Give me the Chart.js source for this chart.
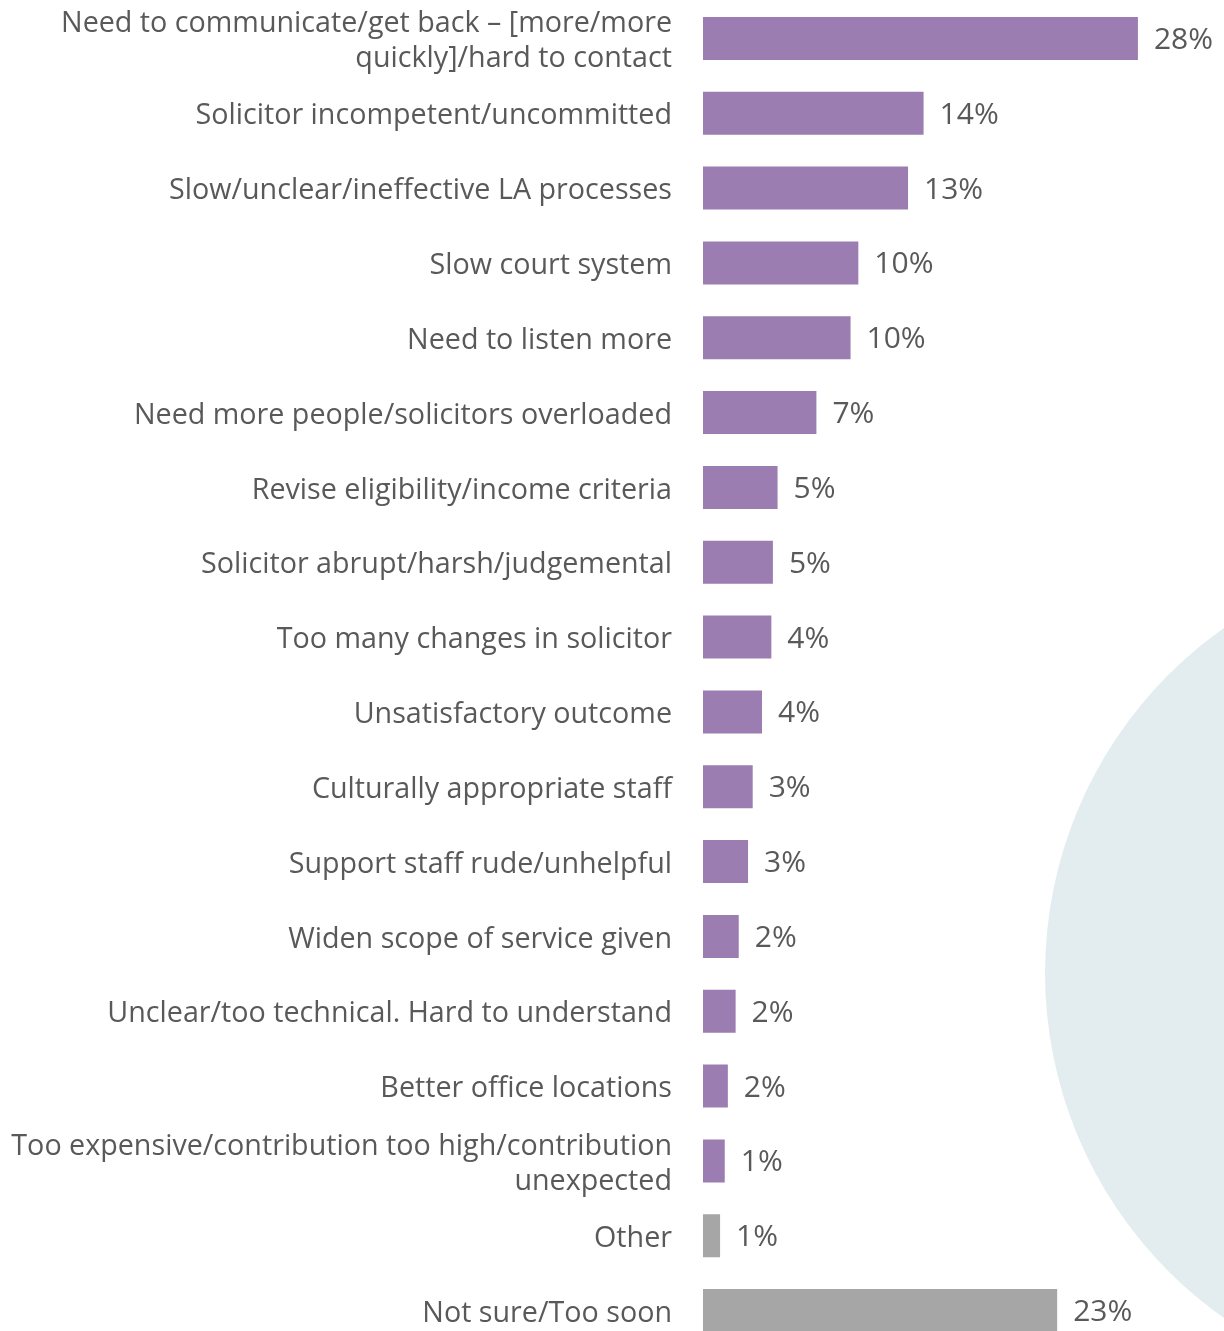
<!DOCTYPE html>
<html>
<head>
<meta charset="utf-8">
<script src="https://cdn.jsdelivr.net/npm/chart.js@4"></script>
<style>
  html, body { margin: 0; padding: 0; background: #ffffff; overflow: hidden; }
  #wrap { position: relative; width: 1224px; height: 1348px; }
</style>
</head>
<body>
<div id="wrap"><canvas id="chart"></canvas></div>
<script>
// Reasons given for what could be improved (share of respondents, %)
const categories = [
  ["Need to communicate/get back \u2013 [more/more", "quickly]/hard to contact"],
  "Solicitor incompetent/uncommitted",
  "Slow/unclear/ineffective LA processes",
  "Slow court system",
  "Need to listen more",
  "Need more people/solicitors overloaded",
  "Revise eligibility/income criteria",
  "Solicitor abrupt/harsh/judgemental",
  "Too many changes in solicitor",
  "Unsatisfactory outcome",
  "Culturally appropriate staff",
  "Support staff rude/unhelpful",
  "Widen scope of service given",
  "Unclear/too technical. Hard to understand",
  "Better office locations",
  ["Too expensive/contribution too high/contribution", "unexpected"],
  "Other",
  "Not sure/Too soon"
];
const shares = [28, 14.2, 13.2, 10.0, 9.5, 7.3, 4.8, 4.5, 4.4, 3.8, 3.2, 2.9, 2.3, 2.1, 1.6, 1.4, 1.1, 22.8];
// Substantive reasons are purple; "Other" and "Not sure" are grey
const groups = ["reason","reason","reason","reason","reason","reason","reason","reason","reason",
                "reason","reason","reason","reason","reason","reason","reason","neutral","neutral"];

const PURPLE = "#9b7db1";
const GREY = "#a6a6a6";
const TEXT = "#595959";
const FONT = "'Open Sans', 'DejaVu Sans', sans-serif";

// Soft circle in the lower right behind the chart
const backdrop = {
  id: "backdrop",
  beforeDraw(chart) {
    const ctx = chart.ctx;
    ctx.save();
    ctx.fillStyle = "#e3edf0";
    ctx.beginPath();
    ctx.arc(1467, 973, 422, 0, Math.PI * 2);
    ctx.fill();
    ctx.restore();
  }
};

// Percentage label after the end of each bar
const valueLabels = {
  id: "valueLabels",
  afterDatasetsDraw(chart) {
    const ctx = chart.ctx;
    const meta = chart.getDatasetMeta(0);
    ctx.save();
    ctx.fillStyle = TEXT;
    ctx.font = "30px " + FONT;
    ctx.textAlign = "left";
    ctx.textBaseline = "middle";
    meta.data.forEach((bar, i) => {
      const v = chart.data.datasets[0].data[i];
      ctx.fillText(Math.round(v) + "%", bar.x + 16, bar.y + 2);
    });
    ctx.restore();
  }
};

new Chart(document.getElementById("chart"), {
  type: "bar",
  data: {
    labels: categories,
    datasets: [{
      data: shares,
      backgroundColor: groups.map(g => g === "reason" ? PURPLE : GREY),
      borderWidth: 0,
      categoryPercentage: 1,
      barPercentage: 0.575
    }]
  },
  options: {
    indexAxis: "y",
    responsive: true,
    maintainAspectRatio: false,
    animation: false,
    layout: { padding: { top: 1, bottom: 0, left: 0, right: 55 } },
    plugins: { legend: { display: false }, tooltip: { enabled: false } },
    scales: {
      x: {
        display: false,
        min: 0,
        max: 30
      },
      y: {
        afterFit(scale) {
          // fixed label column; bands fill the full height
          scale.width = 703;
          scale.paddingTop = 0;
          scale.paddingBottom = 0;
        },
        afterUpdate(scale) {
          // nudge category labels down slightly so they sit level with the bars
          if (scale.__nudged) return;
          const compute = scale._computeLabelItems;
          if (typeof compute !== "function") return;
          scale._computeLabelItems = function (chartArea) {
            const items = compute.call(this, chartArea);
            items.forEach(it => {
              if (it && it.options && Array.isArray(it.options.translation)) {
                it.options.translation = [it.options.translation[0], it.options.translation[1] + 3];
              }
            });
            return items;
          };
          scale.__nudged = true;
        },
        grid: { display: false, drawTicks: false },
        border: { display: false },
        ticks: {
          color: TEXT,
          padding: 31,
          font: { family: FONT, size: 28.7, lineHeight: 1.22 }
        }
      }
    }
  },
  plugins: [backdrop, valueLabels]
});
</script>
</body>
</html>
